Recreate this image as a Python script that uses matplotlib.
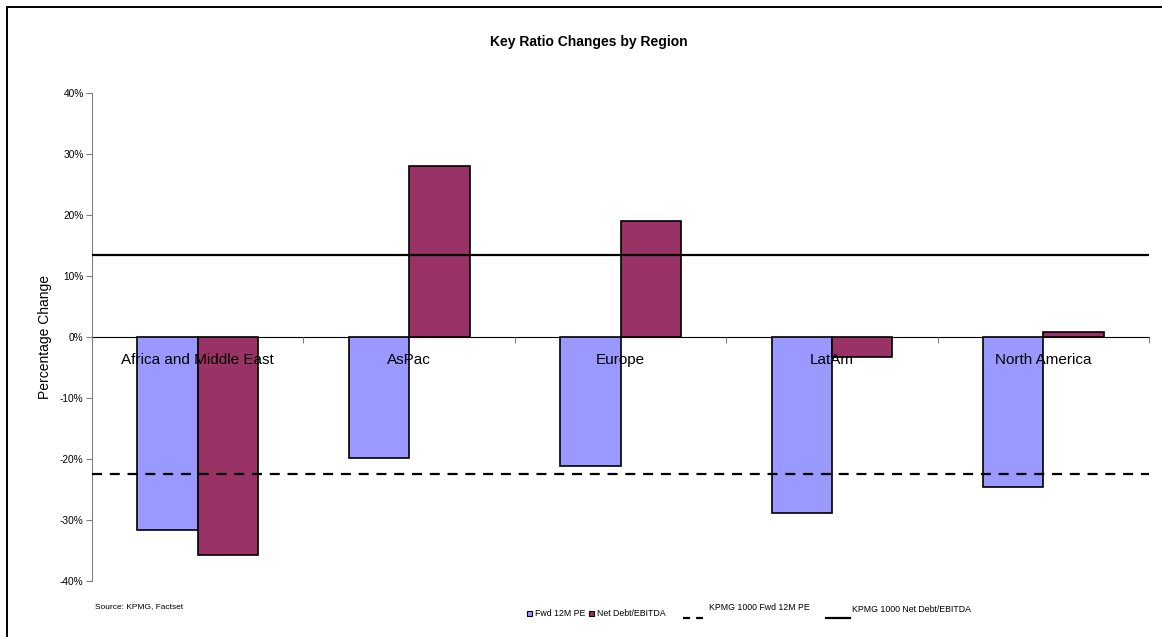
import matplotlib.pyplot as plt
import numpy as np
from matplotlib.patches import Rectangle
from matplotlib.lines import Line2D

plt.rcParams['font.family'] = ['Liberation Sans', 'DejaVu Sans']

# Data (percent)
regions = ['Africa and Middle East', 'AsPac', 'Europe', 'LatAm', 'North America']
fwd_pe = [-31.6, -19.9, -21.1, -28.8, -24.6]
net_debt = [-35.8, 28.1, 19.0, -3.3, 0.9]
kpmg_fwd_pe = -22.4
kpmg_net_debt = 13.4
yticks = [-40, -30, -20, -10, 0, 10, 20, 30, 40]

blue = '#9999FF'
plum = '#993366'

fig = plt.figure(figsize=(11.62, 6.37), dpi=100)
ax = fig.add_axes([92 / 1162, 1 - 581 / 637, (1149 - 92) / 1162, (581 - 93) / 637])

x = np.arange(len(regions))
w = 1 / 3.5
ax.bar(x - w / 2, fwd_pe, w, color=blue, edgecolor='black', linewidth=1.2, zorder=2)
ax.bar(x + w / 2, net_debt, w, color=plum, edgecolor='black', linewidth=1.2, zorder=2)

ax.axhline(kpmg_net_debt, color='black', lw=1.6, zorder=3)
ax.axhline(kpmg_fwd_pe, color='black', lw=1.6, ls=(0, (4.5, 3.5)), zorder=3)

ax.set_xlim(-0.5, len(regions) - 0.5)
ax.set_ylim(-40, 40)
ax.set_yticks(yticks)
ax.set_yticklabels([f'{t}%' for t in yticks], fontsize=7.3)
ax.tick_params(axis='y', length=4, width=0.8, color='#808080', pad=2)

# category axis crosses at zero, like the original
ax.spines['bottom'].set_position(('data', 0))
ax.spines['bottom'].set_color('black')
ax.spines['bottom'].set_zorder(1)
ax.spines['top'].set_visible(False)
ax.spines['right'].set_visible(False)
ax.spines['left'].set_color('#808080')
ax.set_xticks(np.arange(len(regions) + 1) - 0.5)
ax.set_xticklabels([])
ax.tick_params(axis='x', which='major', length=4, width=0.8, color='#808080')

# category names sit just under the zero line, drawn over the bars
for xi, name in zip(x, regions):
    ax.text(xi, -3.8, name, ha='center', va='center', fontsize=11, zorder=5)

ax.set_ylabel('Percentage Change', fontsize=10, labelpad=6)
fig.text(589 / 1162, 1 - 42 / 637, 'Key Ratio Changes by Region', ha='center', va='center',
         fontsize=10, fontweight='bold')
fig.text(95 / 1162, 1 - 607 / 637, 'Source: KPMG, Factset', fontsize=6, va='center')

# legend
fh = lambda px: 1 - px / 637
fw = lambda px: px / 1162
fig.patches.append(Rectangle((fw(527), fh(616)), fw(5), 5 / 637, facecolor=blue,
                             edgecolor='black', lw=0.8, transform=fig.transFigure))
fig.text(fw(535), fh(614), 'Fwd 12M PE', fontsize=6.3, va='center')
fig.patches.append(Rectangle((fw(589), fh(616)), fw(5), 5 / 637, facecolor=plum,
                             edgecolor='black', lw=0.8, transform=fig.transFigure))
fig.text(fw(597), fh(614), 'Net Debt/EBITDA', fontsize=6.3, va='center')
fig.lines.append(Line2D([fw(683), fw(703)], [fh(618), fh(618)], color='black', lw=1.6,
                        ls=(0, (3.2, 2.7)), transform=fig.transFigure))
fig.text(fw(709), fh(607), 'KPMG 1000 Fwd 12M PE', fontsize=6.3, va='center')
fig.lines.append(Line2D([fw(826), fw(850)], [fh(618), fh(618)], color='black', lw=1.6,
                        transform=fig.transFigure))
fig.text(fw(852), fh(609), 'KPMG 1000 Net Debt/EBITDA', fontsize=6.3, va='center')

# outer frame
fig.patches.append(Rectangle((fw(7), -0.1), 1.2, fh(6.5) + 0.1, fill=False,
                             edgecolor='black', lw=1.4, transform=fig.transFigure))

fig.savefig('out.png', dpi=100)
